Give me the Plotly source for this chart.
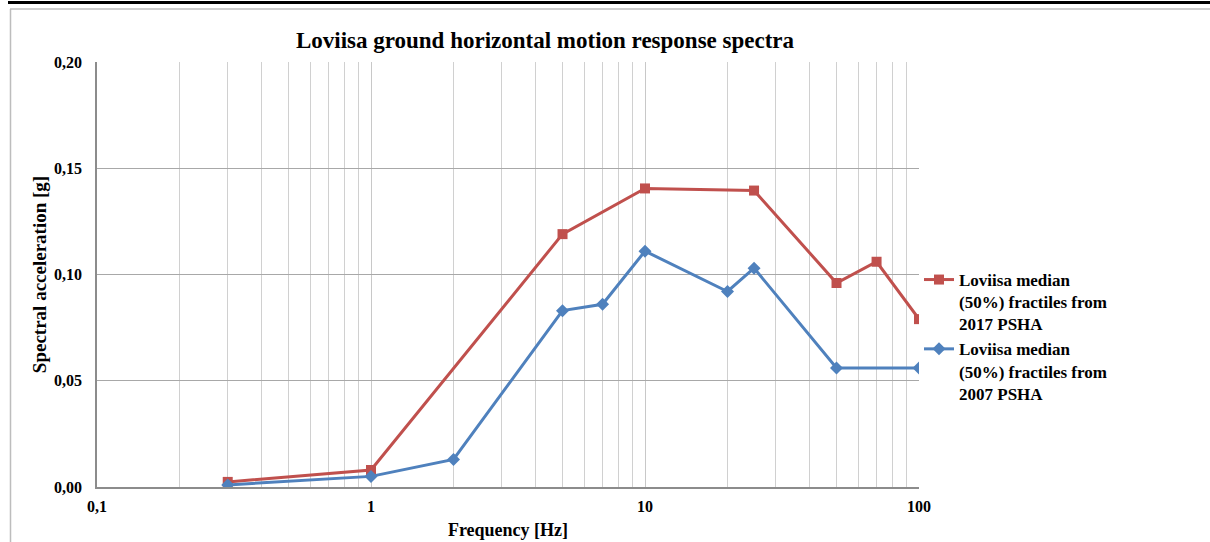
import plotly.graph_objects as go

# Data
freq_2017 = [0.3, 1, 5, 10, 25, 50, 70, 100]
sa_2017 = [0.0024, 0.008, 0.119, 0.1405, 0.1395, 0.096, 0.106, 0.079]
freq_2007 = [0.3, 1, 2, 5, 7, 10, 20, 25, 50, 100]
sa_2007 = [0.001, 0.005, 0.013, 0.083, 0.086, 0.111, 0.092, 0.103, 0.056, 0.056]

name_2017 = "Loviisa median<br>(50%) fractiles from<br>2017 PSHA"
name_2007 = "Loviisa median<br>(50%) fractiles from<br>2007 PSHA"

x_tickvals = [0.1, 1, 10, 100]
x_ticktext = ["0,1", "1", "10", "100"]
y_tickvals = [0.0, 0.05, 0.10, 0.15, 0.20]
y_ticktext = ["0,00", "0,05", "0,10", "0,15", "0,20"]

title_text = "Loviisa ground horizontal motion response spectra"
x_title = "Frequency [Hz]"
y_title = "Spectral acceleration [g]"

RED = "#C0504D"
BLUE = "#4F81BD"
FONT = "Liberation Serif"

W, H = 1210, 542
L, R, T, B = 97, 291, 62, 55
PW, PH = W - L - R, H - T - B


def px(x):
    return (x - L) / PW


def py(y):
    return (H - B - y) / PH


fig = go.Figure()
fig.add_trace(go.Scatter(
    x=freq_2017, y=sa_2017, mode="lines+markers", name=name_2017,
    line=dict(color=RED, width=3),
    marker=dict(symbol="square", size=10, color=RED),
))
fig.add_trace(go.Scatter(
    x=freq_2007, y=sa_2007, mode="lines+markers", name=name_2007,
    line=dict(color=BLUE, width=3),
    marker=dict(symbol="diamond", size=10, color=BLUE),
))

shapes = [
    # top black band
    dict(type="rect", xref="paper", yref="paper", x0=px(8), x1=px(W + 5),
         y0=py(4), y1=py(1), fillcolor="black", line=dict(width=0), layer="above"),
    # outer gray frame: top and left
    dict(type="line", xref="paper", yref="paper", x0=px(10), x1=px(W + 5),
         y0=py(9), y1=py(9), line=dict(color="#BDBDBD", width=1.5)),
    dict(type="line", xref="paper", yref="paper", x0=px(10.5), x1=px(10.5),
         y0=py(9), y1=py(H + 5), line=dict(color="#BDBDBD", width=1.5)),
]

fig.update_layout(
    width=W, height=H,
    margin=dict(l=L, r=R, t=T, b=B),
    paper_bgcolor="white", plot_bgcolor="white",
    font=dict(family=FONT, color="black"),
    title=dict(text="<b>" + title_text + "</b>", xref="paper", x=px(545), xanchor="center",
               yref="container", y=1 - 40 / H, yanchor="middle",
               font=dict(size=23, family=FONT)),
    showlegend=True,
    legend=dict(x=px(919), xanchor="left", y=py(262), yanchor="top",
                font=dict(size=17, family=FONT, color="black", weight="bold"),
                bgcolor="rgba(0,0,0,0)", valign="top", tracegroupgap=0,
                itemwidth=30),
    shapes=shapes,
)

fig.update_xaxes(
    type="log", range=[-1, 2], automargin=False,
    tickvals=x_tickvals, ticktext=["<b>%s</b>" % t for t in x_ticktext],
    tickfont=dict(size=16, family=FONT),
    ticks="outside", ticklen=4, tickcolor="rgba(0,0,0,0)",
    showgrid=True, gridcolor="#C8C8C8", gridwidth=1,
    minor=dict(tickvals=[k * 10 ** e for e in (-1, 0, 1) for k in range(2, 10)],
               showgrid=True, gridcolor="#D0D0D0", gridwidth=1, ticks=""),
    showline=True, linecolor="#8C8C8C", linewidth=1.5,
    zeroline=False,
    title=dict(text="<b>" + x_title + "</b>", font=dict(size=18, family=FONT), standoff=9),
)
fig.update_yaxes(
    range=[0, 0.2], automargin=False,
    tickvals=y_tickvals, ticktext=["<b>%s</b>" % t for t in y_ticktext],
    tickfont=dict(size=16, family=FONT),
    ticks="outside", ticklen=10, tickcolor="rgba(0,0,0,0)",
    showgrid=True, gridcolor="#A8A8A8", gridwidth=1,
    showline=True, linecolor="#8C8C8C", linewidth=1.5,
    zeroline=False,
    title=dict(text="<b>" + y_title + "</b>", font=dict(size=19, family=FONT), standoff=2),
)

fig.write_html("out.html")
